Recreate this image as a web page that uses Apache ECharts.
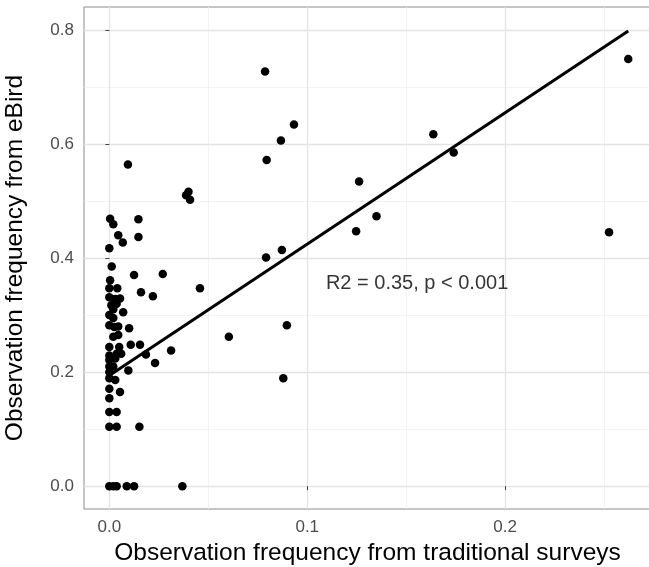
<!DOCTYPE html>
<html>
<head>
<meta charset="utf-8">
<script src="https://cdn.jsdelivr.net/npm/echarts@6/dist/echarts.min.js"></script>
<style>
  html, body { margin: 0; padding: 0; background: #fff; }
  #chart { width: 649px; height: 567px; }
</style>
</head>
<body>
<div id="chart"></div>
<script>
// observation frequency pairs: [traditional surveys, eBird]
var points = [
  [0.0787, 0.727], [0.2622, 0.749], [0.0933, 0.634], [0.0867, 0.606], [0.0795, 0.572],
  [0.1637, 0.617], [0.174, 0.585], [0.0094, 0.564], [0.040, 0.516], [0.0388, 0.510],
  [0.0408, 0.502], [0.1262, 0.534], [0.135, 0.473], [0.1247, 0.447], [0.0872, 0.414],
  [0.0792, 0.401], [0.2525, 0.445], [0.0458, 0.347], [0.027, 0.372], [0.0897, 0.282],
  [0.0604, 0.262], [0.0879, 0.189], [0.0312, 0.238], [0.0231, 0.216], [0.0185, 0.231],
  [0.022, 0.333], [0.016, 0.340], [0.0147, 0.468], [0.0147, 0.437], [0.0125, 0.370],
  [0.0004, 0.469], [0.002, 0.459], [0.0045, 0.440], [0.0068, 0.427], [0, 0.417],
  [0.0012, 0.385], [0.0004, 0.361], [0, 0.347], [0.004, 0.347], [0, 0.331],
  [0.003, 0.328], [0.0054, 0.329], [0.001, 0.317], [0.0037, 0.320], [0.007, 0.305],
  [0, 0.300], [0, 0.282], [0.0025, 0.279], [0.0045, 0.280], [0.010, 0.277],
  [0.0045, 0.265], [0, 0.244], [0.005, 0.244], [0.0108, 0.248], [0.0155, 0.248],
  [0, 0.229], [0.0037, 0.232], [0, 0.221], [0.003, 0.224], [0.0096, 0.203],
  [0, 0.210], [0, 0.200], [0, 0.189], [0.003, 0.186], [0, 0.171],
  [0.0054, 0.165], [0, 0.154], [0, 0.130], [0.0037, 0.130], [0, 0.104],
  [0.0037, 0.104], [0.0152, 0.104], [0.002, 0.295], [0.002, 0.262], [0.002, 0.210],
  [0.006, 0.232], [0.002, 0.310],
  [0, 0], [0.002, 0], [0.0037, 0], [0.0088, 0], [0.0125, 0], [0.0369, 0]
];
// fitted regression line end points
var fitLine = [[0, 0.194], [0.2622, 0.798]];
var xTicks = [0, 0.1, 0.2];
var xMinor = [0.05, 0.15, 0.25];
var yTicks = [0, 0.2, 0.4, 0.6, 0.8];
var yMinor = [0.1, 0.3, 0.5, 0.7];
var statText = 'R2 = 0.35, p < 0.001';
var statPos = [0.1555, 0.356];

var chart = echarts.init(document.getElementById('chart'));

var minorStyle = { color: '#f0f0f0', width: 0.8, type: 'solid' };
var majorStyle = { color: '#e4e4e4', width: 1.3, type: 'solid' };
var grid = [];
xMinor.forEach(function (v) { grid.push({ xAxis: v, lineStyle: minorStyle }); });
yMinor.forEach(function (v) { grid.push({ yAxis: v, lineStyle: minorStyle }); });
xTicks.forEach(function (v) { grid.push({ xAxis: v, lineStyle: majorStyle }); });
yTicks.forEach(function (v) { grid.push({ yAxis: v, lineStyle: majorStyle }); });

var fmt = function (v) { return v.toFixed(1); };

chart.setOption({
  animation: false,
  textStyle: { fontFamily: 'Liberation Sans, Arial, sans-serif' },
  grid: {
    left: 84, top: 7, right: -2, bottom: 58,
    outerBoundsMode: 'none', containLabel: false,
    show: true, borderColor: '#8c8c8c', borderWidth: 1, backgroundColor: '#fff'
  },
  xAxis: {
    type: 'value', min: -0.0128, max: 0.2737,
    name: 'Observation frequency from traditional surveys',
    nameLocation: 'middle', nameGap: 30,
    nameTextStyle: { fontSize: 24.5, color: '#000' },
    axisLine: { show: false },
    splitLine: { show: false },
    axisTick: { show: true, length: 4, customValues: xTicks, lineStyle: { color: '#444', width: 1 } },
    axisLabel: { customValues: xTicks, formatter: fmt, fontSize: 17, color: '#4d4d4d', margin: 10 }
  },
  yAxis: {
    type: 'value', min: -0.04, max: 0.84,
    name: 'Observation frequency from eBird',
    nameLocation: 'middle', nameGap: 56, nameRotate: 90,
    nameTextStyle: { fontSize: 24.5, color: '#000' },
    axisLine: { show: false },
    splitLine: { show: false },
    axisTick: { show: true, length: 4, customValues: yTicks, lineStyle: { color: '#444', width: 1 } },
    axisLabel: { customValues: yTicks, formatter: fmt, fontSize: 17, color: '#4d4d4d', margin: 10 }
  },
  series: [
    {
      type: 'scatter', data: [], silent: true, z: 0,
      markLine: { silent: true, z: 0, symbol: 'none', label: { show: false }, data: grid, animation: false }
    },
    {
      type: 'scatter', data: points, symbolSize: 8.5,
      itemStyle: { color: '#000', opacity: 1 }, z: 2
    },
    {
      type: 'line', data: fitLine, symbol: 'none', z: 3,
      lineStyle: { color: '#000', width: 3 }
    },
    {
      type: 'scatter', data: [statPos], symbolSize: 0, z: 4,
      label: { show: true, position: 'inside', formatter: statText, fontSize: 20, color: '#000' }
    }
  ]
});
</script>
</body>
</html>
